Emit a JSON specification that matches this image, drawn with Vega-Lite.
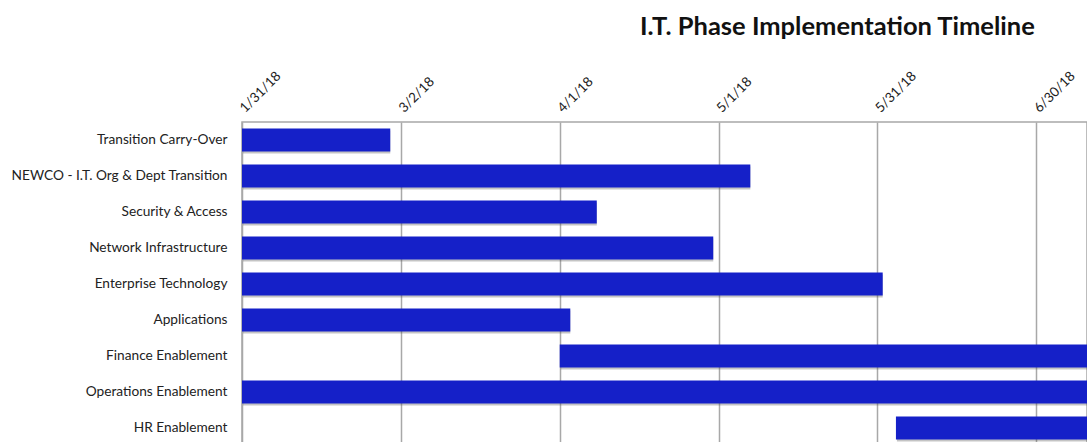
{
  "$schema": "https://vega.github.io/schema/vega-lite/v6.json",
  "autosize": "none",
  "padding": {"left": 242, "top": 122, "right": 0, "bottom": 0},
  "width": 845,
  "height": 324,
  "background": "white",
  "title": {
    "text": "I.T. Phase Implementation Timeline",
    "font": "Lato",
    "fontSize": 25.5,
    "fontWeight": "bold",
    "color": "#111111",
    "anchor": "start",
    "frame": "group",
    "dx": 398,
    "offset": 28
  },
  "config": {
    "view": {"stroke": "#a8a8a8", "strokeWidth": 1.5}
  },
  "data": {
    "values": [
      {"task": "Transition Carry-Over", "start": "2018-01-31", "end": "2018-02-28"},
      {"task": "NEWCO - I.T. Org & Dept Transition", "start": "2018-01-31", "end": "2018-05-07"},
      {"task": "Security & Access", "start": "2018-01-31", "end": "2018-04-08"},
      {"task": "Network Infrastructure", "start": "2018-01-31", "end": "2018-04-30"},
      {"task": "Enterprise Technology", "start": "2018-01-31", "end": "2018-06-01"},
      {"task": "Applications", "start": "2018-01-31", "end": "2018-04-03"},
      {"task": "Finance Enablement", "start": "2018-04-01", "end": "2018-08-31"},
      {"task": "Operations Enablement", "start": "2018-01-31", "end": "2018-08-31"},
      {"task": "HR Enablement", "start": "2018-06-03T12:00:00Z", "end": "2018-08-31"}
    ]
  },
  "encoding": {
    "y": {
      "field": "task",
      "type": "nominal",
      "sort": null,
      "scale": {"paddingInner": 0.36, "paddingOuter": 0.18},
      "axis": {
        "title": null,
        "ticks": false,
        "domain": false,
        "labelPadding": 15,
        "labelFont": "Lato",
        "labelFontSize": 13.7,
        "labelColor": "#222222",
        "labelLimit": 300
      }
    },
    "x": {
      "field": "start",
      "type": "temporal",
      "scale": {
        "type": "utc",
        "domain": [
          {"year": 2018, "month": 1, "date": 31, "utc": true},
          {"year": 2018, "month": 7, "date": 9, "hours": 14, "utc": true}
        ]
      },
      "axis": {
        "orient": "top",
        "title": null,
        "values": [
          {"year": 2018, "month": 1, "date": 31, "utc": true},
          {"year": 2018, "month": 3, "date": 2, "utc": true},
          {"year": 2018, "month": 4, "date": 1, "utc": true},
          {"year": 2018, "month": 5, "date": 1, "utc": true},
          {"year": 2018, "month": 5, "date": 31, "utc": true},
          {"year": 2018, "month": 6, "date": 30, "utc": true}
        ],
        "format": "%-m/%-d/%y",
        "labelAngle": -45,
        "labelAlign": "left",
        "labelBaseline": "middle",
        "labelPadding": 12,
        "labelFont": "Lato",
        "labelFontSize": 13.5,
        "labelColor": "#222222",
        "ticks": false,
        "domain": false,
        "grid": true,
        "gridColor": "#a8a8a8",
        "gridWidth": 1.5,
        "gridOpacity": 1
      }
    },
    "x2": {"field": "end"}
  },
  "layer": [
    {
      "mark": {"type": "bar", "clip": true, "color": "#555555", "opacity": 0.35, "yOffset": 2, "xOffset": 1}
    },
    {
      "mark": {"type": "bar", "clip": true, "color": "#1520C8"}
    }
  ]
}
